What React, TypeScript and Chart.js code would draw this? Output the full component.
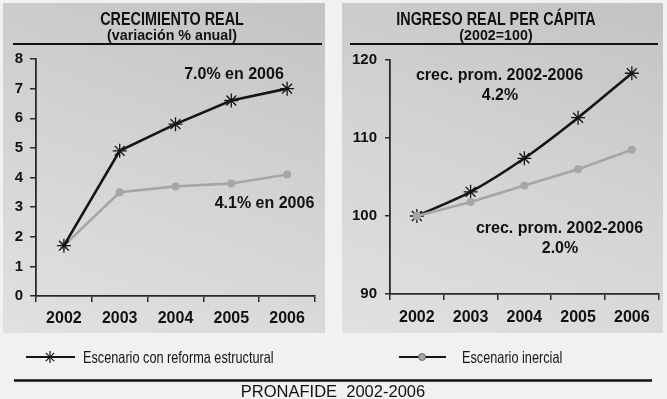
import React, { useEffect, useRef } from "react";
import { Chart, registerables } from "chart.js";

Chart.register(...registerables);

const years = ["2002", "2003", "2004", "2005", "2006"];
const growthReform = [1.7, 4.9, 5.8, 6.6, 7.0];
const growthInertial = [1.7, 3.5, 3.7, 3.8, 4.1];
const incomeReform = [100, 103.1, 107.4, 112.6, 118.3];
const incomeInertial = [100, 101.8, 103.9, 106.0, 108.5];

const FONT = "'Liberation Sans', Arial, Helvetica, sans-serif";
const BLACK = "#151515";
const GRAY = "#a6a6a6";
const AXIS = "#2a2a2a";

type PanelCfg = {
  width: number;
  height: number;
  reform: number[];
  inertial: number[];
  yMin: number;
  yMax: number;
  yStep: number;
  yWidth: number;
  xHeight: number;
  padTop: number;
  padRight: number;
  yTickLen: number;
  yPad: number;
  xPad: number;
  reformTension: number;
  inertialOnTop: boolean;
};

function LinePanel({ cfg }: { cfg: PanelCfg }) {
  const ref = useRef<HTMLCanvasElement | null>(null);
  useEffect(() => {
    if (!ref.current) return;
    const chart = new Chart(ref.current, {
      type: "line",
      data: {
        labels: years,
        datasets: [
          {
            label: "Escenario con reforma estructural",
            data: cfg.reform,
            borderColor: BLACK,
            backgroundColor: BLACK,
            borderWidth: 2.6,
            pointStyle: "star",
            pointRadius: 7,
            pointBorderWidth: 1.3,
            pointBorderColor: BLACK,
            tension: cfg.reformTension,
            order: cfg.inertialOnTop ? 1 : 0,
          },
          {
            label: "Escenario inercial",
            data: cfg.inertial,
            borderColor: GRAY,
            backgroundColor: GRAY,
            borderWidth: 2.6,
            pointStyle: "circle",
            pointRadius: 4,
            pointBorderWidth: 0,
            pointBackgroundColor: GRAY,
            tension: 0,
            order: cfg.inertialOnTop ? 0 : 1,
          },
        ],
      },
      options: {
        animation: false,
        responsive: false,
        devicePixelRatio: 1,
        layout: { padding: { top: cfg.padTop, right: cfg.padRight, left: 0, bottom: 0 } },
        plugins: { legend: { display: false }, tooltip: { enabled: false } },
        scales: {
          x: {
            offset: true,
            grid: {
              offset: true,
              drawOnChartArea: false,
              drawTicks: true,
              tickLength: 6,
              color: AXIS,
              lineWidth: 1.5,
            },
            border: { display: true, color: AXIS, width: 1.8 },
            ticks: {
              color: "#111",
              padding: cfg.xPad,
              font: { family: FONT, size: 16, weight: "bold" },
              maxRotation: 0,
            },
            afterFit: (s: any) => {
              s.height = cfg.xHeight;
            },
          },
          y: {
            min: cfg.yMin,
            max: cfg.yMax,
            grid: {
              drawOnChartArea: false,
              drawTicks: true,
              tickLength: cfg.yTickLen,
              color: AXIS,
              lineWidth: 1.5,
            },
            border: { display: true, color: AXIS, width: 1.8 },
            ticks: {
              stepSize: cfg.yStep,
              color: "#111",
              padding: cfg.yPad,
              font: { family: FONT, size: 15, weight: "bold" },
            },
            afterFit: (s: any) => {
              s.width = cfg.yWidth;
            },
          },
        },
      },
    });
    return () => chart.destroy();
  }, [cfg]);
  return <canvas ref={ref} width={cfg.width} height={cfg.height} style={{ width: cfg.width, height: cfg.height, display: "block" }} />;
}

function Txt({
  x,
  y,
  size,
  bold = true,
  sx = 1,
  children,
}: {
  x: number;
  y: number;
  size: number;
  bold?: boolean;
  sx?: number;
  children: React.ReactNode;
}) {
  return (
    <div
      style={{
        position: "absolute",
        left: x - 200,
        top: y - 10,
        width: 400,
        height: 20,
        lineHeight: "20px",
        textAlign: "center",
        whiteSpace: "nowrap",
        fontFamily: FONT,
        fontSize: size,
        fontWeight: bold ? "bold" : "normal",
        color: "#111",
        transform: `scaleX(${sx})`,
        transformOrigin: "center",
      }}
    >
      {children}
    </div>
  );
}

function LeftTxt({ x, y, size, sx, children }: { x: number; y: number; size: number; sx: number; children: React.ReactNode }) {
  return (
    <div
      style={{
        position: "absolute",
        left: x,
        top: y - 10,
        height: 20,
        lineHeight: "20px",
        whiteSpace: "nowrap",
        fontFamily: FONT,
        fontSize: size,
        color: "#151515",
        transform: `scaleX(${sx})`,
        transformOrigin: "left center",
      }}
    >
      {children}
    </div>
  );
}

const leftCfg: PanelCfg = {
  width: 330,
  height: 340,
  reform: growthReform,
  inertial: growthInertial,
  yMin: 0,
  yMax: 8,
  yStep: 1,
  yWidth: 36,
  xHeight: 44,
  padTop: 59,
  padRight: 15,
  yTickLen: 6,
  yPad: 7,
  xPad: 7,
  reformTension: 0,
  inertialOnTop: false,
};

const rightCfg: PanelCfg = {
  width: 327,
  height: 340,
  reform: incomeReform,
  inertial: incomeInertial,
  yMin: 90,
  yMax: 120,
  yStep: 10,
  yWidth: 50,
  xHeight: 46,
  padTop: 60,
  padRight: 7,
  yTickLen: 5,
  yPad: 8,
  xPad: 8,
  reformTension: 0.25,
  inertialOnTop: true,
};

const panelBg = "linear-gradient(200deg, #c3c3c3 0%, #d2d2d2 45%, #e1e1e1 100%)";

export default function App() {
  return (
    <div
      style={{
        position: "fixed",
        left: 0,
        top: 0,
        width: 667,
        height: 399,
        overflow: "hidden",
        background: "#f1f1f0",
      }}
    >
      <div style={{ position: "absolute", left: 3, top: 3, width: 322, height: 330, background: panelBg }} />
      <div style={{ position: "absolute", left: 342, top: 3, width: 321, height: 330, background: panelBg }} />

      <div style={{ position: "absolute", left: 13, top: 42.5, width: 309, height: 2, background: "#111" }} />
      <div style={{ position: "absolute", left: 350, top: 42.5, width: 308, height: 2, background: "#111" }} />

      <div style={{ position: "absolute", left: 0, top: 0 }}>
        <LinePanel cfg={leftCfg} />
      </div>
      <div style={{ position: "absolute", left: 340, top: 0 }}>
        <LinePanel cfg={rightCfg} />
      </div>

      <Txt x={171.5} y={18.5} size={18} sx={0.8}>CRECIMIENTO REAL</Txt>
      <Txt x={171.5} y={35} size={15} sx={0.95}>(variación % anual)</Txt>
      <Txt x={495.5} y={18.5} size={18} sx={0.8}>INGRESO REAL PER CÁPITA</Txt>
      <Txt x={495.5} y={35} size={15} sx={0.95}>(2002=100)</Txt>

      <Txt x={234} y={74} size={16}>7.0% en 2006</Txt>
      <Txt x={264.5} y={203} size={16}>4.1% en 2006</Txt>
      <Txt x={499.5} y={75} size={16}>crec. prom. 2002-2006</Txt>
      <Txt x={500} y={95} size={16}>4.2%</Txt>
      <Txt x={559.5} y={228} size={16}>crec. prom. 2002-2006</Txt>
      <Txt x={560} y={247.5} size={16}>2.0%</Txt>

      <svg width={667} height={399} style={{ position: "absolute", left: 0, top: 0 }}>
        <line x1={26} y1={357} x2={75} y2={357} stroke={BLACK} strokeWidth={2} />
        <g stroke={BLACK} strokeWidth={1.2}>
          <line x1={50} y1={351} x2={50} y2={363} />
          <line x1={44} y1={357} x2={56} y2={357} />
          <line x1={45.8} y1={352.8} x2={54.2} y2={361.2} />
          <line x1={45.8} y1={361.2} x2={54.2} y2={352.8} />
        </g>
        <line x1={399} y1={357} x2={446} y2={357} stroke={BLACK} strokeWidth={2} />
        <circle cx={422} cy={357} r={3.5} fill={GRAY} stroke="#555" strokeWidth={0.8} />
        <line x1={14} y1={380.5} x2={652} y2={380.5} stroke="#111" strokeWidth={2.6} />
      </svg>

      <LeftTxt x={83} y={356.5} size={16.5} sx={0.77}>Escenario con reforma estructural</LeftTxt>
      <LeftTxt x={462} y={356.5} size={16.5} sx={0.77}>Escenario inercial</LeftTxt>
      <Txt x={333} y={391} size={16.5} bold={false}>PRONAFIDE&nbsp; 2002-2006</Txt>
    </div>
  );
}
